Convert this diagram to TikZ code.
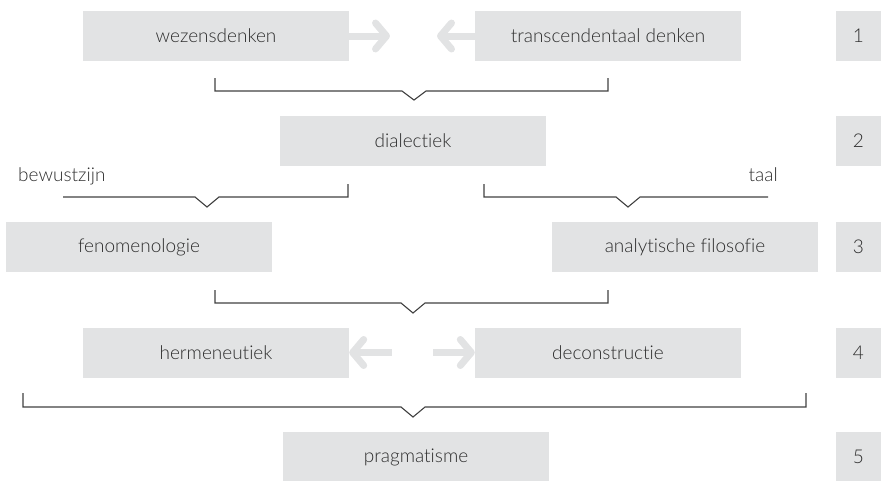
\documentclass[tikz,border=0pt]{standalone}
\usepackage{fontspec}
\setmainfont{Lato Light}[Ligatures=NoCommon]
\usetikzlibrary{arrows.meta}
\definecolor{boxgray}{RGB}{226,227,228}
\definecolor{txtgray}{RGB}{45,45,45}
\definecolor{linegray}{RGB}{64,64,64}

\begin{document}
\begin{tikzpicture}[x=1pt,y=-1pt,
        box/.style={fill=boxgray,minimum width=266pt,minimum height=50pt,inner sep=0pt,text=txtgray,font=\fontsize{19}{21}\selectfont},
        nr/.style={box,minimum width=45pt},
        fatarrow/.style={draw=boxgray,line width=7pt,-{Straight Barb[length=11pt,width=26pt,round]}},
        brace/.style={draw=linegray,line width=1.1pt},
        lbl/.style={text=txtgray,inner sep=0pt,font=\fontsize{19}{21}\selectfont}]
    \useasboundingbox (0,0) rectangle (881,480);
    % rij 1
    \node[box] (wezen) at (216,36) {wezensdenken};
    \node[box] (trans) at (608,36) {transcendentaal denken};
    \node[nr] (n1) at (858.5,36) {1};
    \coordinate (t1) at (390,36);
    \coordinate (t2) at (437,36);
    \draw[fatarrow] (wezen.east) -- (t1);
    \draw[fatarrow] (trans.west) -- (t2);
    \draw[brace] (215,78) -- (215,91) -- (402,91) -- (414,100) -- (426,91) -- (608,91) -- (608,78);
    % rij 2
    \node[box] (dial) at (413,141) {dialectiek};
    \node[nr] (n2) at (858.5,141) {2};
    \node[lbl,anchor=base west] (bew) at (18,181) {bewustzijn};
    \node[lbl,anchor=base east] (taal) at (778,181) {taal};
    \draw[brace] (63,197) -- (195,197) -- (207,207) -- (219,197) -- (348,197) -- (348,184);
    \draw[brace] (484,184) -- (484,197) -- (616,197) -- (628,207) -- (640,197) -- (768,197);
    % rij 3
    \node[box] (feno) at (139,247) {fenomenologie};
    \node[box] (anal) at (685,247) {analytische filosofie};
    \node[nr] (n3) at (858.5,247) {3};
    \draw[brace] (215,290) -- (215,303) -- (401,303) -- (413,313) -- (425,303) -- (608,303) -- (608,290);
    % rij 4
    \node[box] (herm) at (216,352.5) {hermeneutiek};
    \node[box] (deco) at (608,352.5) {deconstructie};
    \node[nr] (n4) at (858.5,352.5) {4};
    \coordinate (t3) at (392,352.5);
    \coordinate (t4) at (433,352.5);
    \draw[fatarrow] (t3) -- (herm.east);
    \draw[fatarrow] (t4) -- (deco.west);
    \draw[brace] (23,393) -- (23,407) -- (401,407) -- (413,417) -- (425,407) -- (806,407) -- (806,393);
    % rij 5
    \node[box] (prag) at (416,457) {pragmatisme};
    \node[nr] (n5) at (858.5,457) {5};
\end{tikzpicture}
\end{document}
